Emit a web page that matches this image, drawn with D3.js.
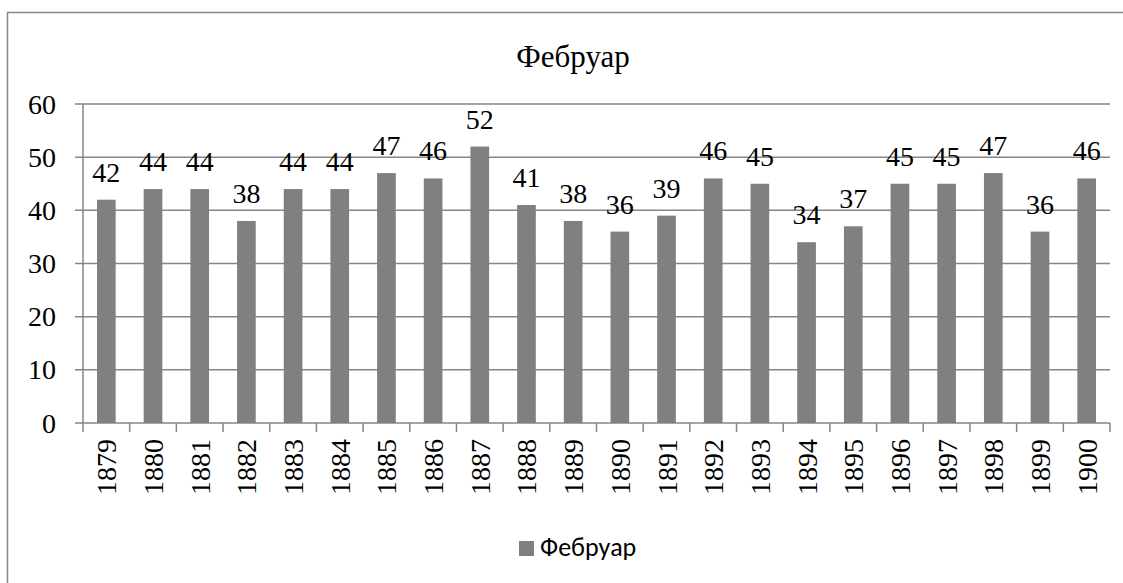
<!DOCTYPE html>
<html>
<head>
<meta charset="utf-8">
<script src="https://cdn.jsdelivr.net/npm/d3@7"></script>
<style>
  html, body { margin: 0; padding: 0; background: #fff; overflow: hidden; }
  svg { display: block; }
</style>
</head>
<body>
<svg id="chart" width="1123" height="583"></svg>
<script>
const title = "Фебруар";
const years = ["1879","1880","1881","1882","1883","1884","1885","1886","1887","1888","1889",
	"1890","1891","1892","1893","1894","1895","1896","1897","1898","1899","1900"];
const values = [42,44,44,38,44,44,47,46,52,41,38,36,39,46,45,34,37,45,45,47,36,46];
const yTicks = [0,10,20,30,40,50,60];

let margin = {"left": 83, "top": 104, "bottom": 160, "right": 13};
let width = 1123;
let height = 583;
let grey = "#868686";
let serif = "'Liberation Serif', 'Times New Roman', serif";
let sans = "Carlito, 'Liberation Sans', sans-serif";

let svg = d3.select("#chart");

// outer frame: only top and left edges are inside the picture
svg.append("path")
	.attr("d", "M7.5," + height + "V12.5H" + width)
	.attr("fill", "none").attr("stroke", grey).attr("stroke-width", 1.5);

let x = d3.scaleBand()
	.domain(years)
	.range([margin.left, width - margin.right])
	.paddingInner(0.6)
	.paddingOuter(0.3);

let xCat = d3.scaleBand()
	.domain(years)
	.range([margin.left, width - margin.right]);

let y = d3.scaleLinear()
	.domain([0, 60])
	.range([height - margin.bottom, margin.top]);

// gridlines + y ticks
let axisY = svg.append("g").attr("class", "axisY");
axisY.selectAll("line")
	.data(yTicks)
	.join("line")
	.attr("x1", margin.left - 8)
	.attr("x2", width - margin.right)
	.attr("y1", d => y(d))
	.attr("y2", d => y(d))
	.attr("stroke", grey)
	.attr("stroke-width", 1.5);

axisY.selectAll("text")
	.data(yTicks)
	.join("text")
	.attr("x", margin.left - 27)
	.attr("y", d => y(d))
	.attr("dy", "0.34em")
	.attr("text-anchor", "end")
	.style("font-family", serif)
	.style("font-size", "28px")
	.text(d => d);

axisY.append("line")
	.attr("x1", margin.left).attr("x2", margin.left)
	.attr("y1", y(60)).attr("y2", y(0))
	.attr("stroke", grey).attr("stroke-width", 1.5);

// x ticks at category boundaries
let bounds = years.map(d => xCat(d)).concat([xCat.range()[1]]);
let axisX = svg.append("g").attr("class", "axisX");
axisX.selectAll("line")
	.data(bounds)
	.join("line")
	.attr("x1", d => d).attr("x2", d => d)
	.attr("y1", y(0)).attr("y2", y(0) + 9)
	.attr("stroke", grey).attr("stroke-width", 1.5);

axisX.selectAll("text")
	.data(years)
	.join("text")
	.attr("text-anchor", "end")
	.style("font-family", serif)
	.style("font-size", "28px")
	.attr("transform", d => "translate(" + (xCat(d) + xCat.bandwidth() / 2 + 10) + "," + (y(0) + 16) + ") rotate(-90)")
	.text(d => d);

// bars
let data = years.map((d, i) => ({"year": d, "value": values[i]}));
svg.append("g").selectAll("rect")
	.data(data)
	.join("rect")
	.attr("x", d => x(d.year))
	.attr("y", d => y(d.value))
	.attr("width", x.bandwidth())
	.attr("height", d => y(0) - y(d.value))
	.attr("fill", "#808080");

// data labels
svg.append("g").selectAll("text")
	.data(data)
	.join("text")
	.attr("x", d => x(d.year) + x.bandwidth() / 2)
	.attr("y", d => y(d.value) - 18)
	.attr("text-anchor", "middle")
	.style("font-family", serif)
	.style("font-size", "28px")
	.text(d => d.value);

// title
svg.append("text")
	.attr("x", 573)
	.attr("y", 67)
	.attr("text-anchor", "middle")
	.style("font-family", serif)
	.style("font-size", "31px")
	.text(title);

// legend
let legend = svg.append("g").attr("transform", "translate(519,541)");
legend.append("rect")
	.attr("width", 15).attr("height", 15)
	.attr("fill", "#808080");
legend.append("text")
	.attr("x", 21)
	.attr("y", 15)
	.style("font-family", sans)
	.style("font-size", "26px")
	.text(title);
</script>
</body>
</html>
